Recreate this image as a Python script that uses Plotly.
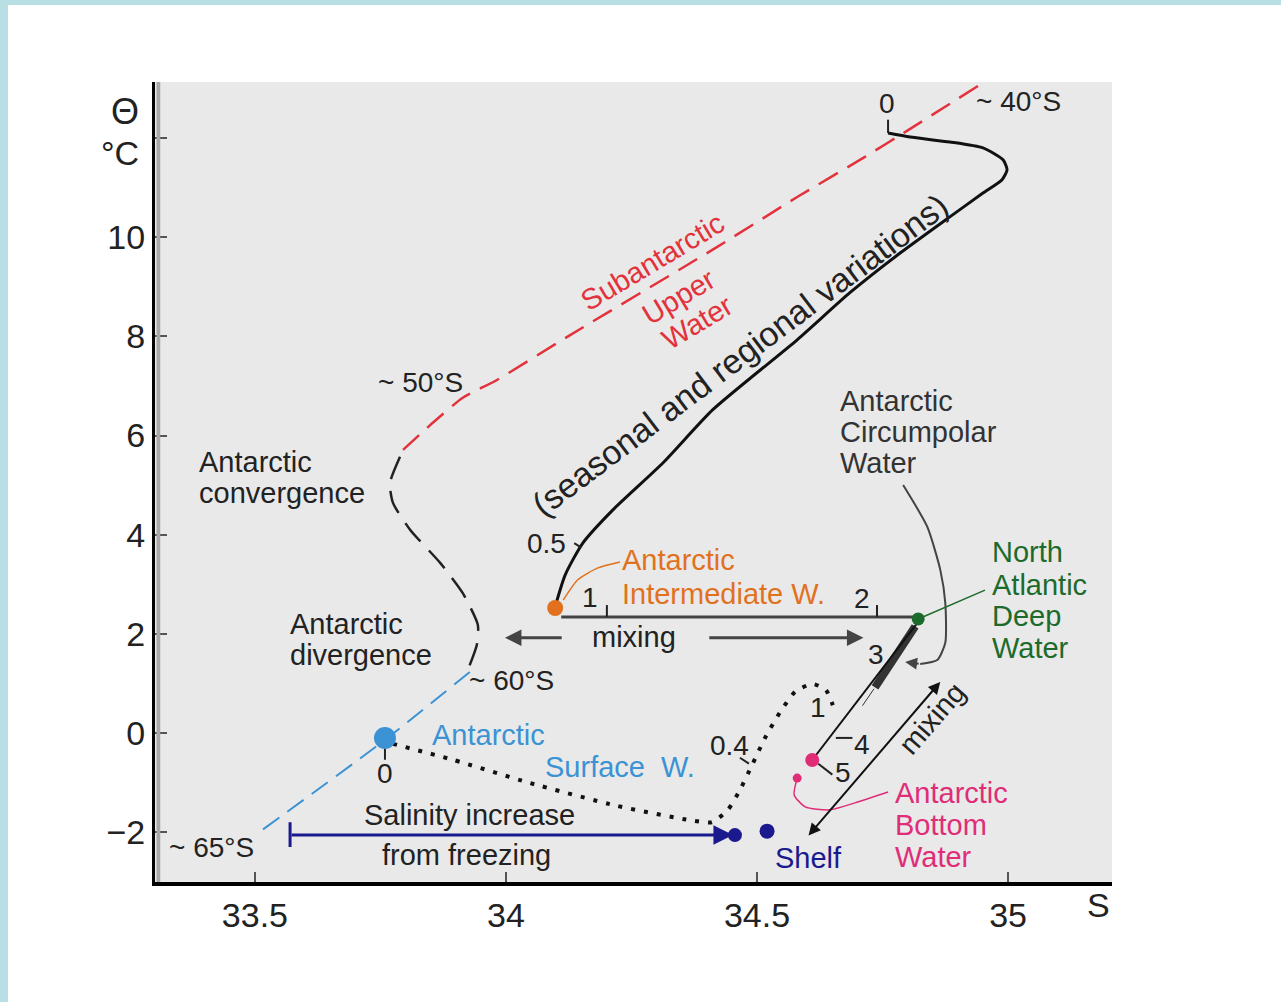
import plotly.graph_objects as go

# ---------------- water-mass paths (salinity S, potential temperature θ) ----------------
sauw_s = [34.940, 34.801, 34.715, 34.580, 34.420, 34.122, 33.982, 33.914, 33.849, 33.795]
sauw_t = [13.05, 12.16, 11.62, 10.81, 9.80, 7.99, 7.12, 6.76, 6.21, 5.71]

front_s = [33.789, 33.769, 33.775, 33.809, 33.869, 33.914, 33.944, 33.942, 33.924]
front_t = [5.57, 5.04, 4.64, 4.10, 3.43, 2.82, 2.18, 1.78, 1.27]

asw_line_s = [33.928, 33.759, 33.514]
asw_line_t = [1.23, -0.14, -1.96]

profile_s = [34.761, 34.805, 34.884, 34.950, 34.990, 34.998, 34.988, 34.950, 34.884,
             34.785, 34.685, 34.580, 34.412, 34.313, 34.213, 34.153, 34.118, 34.100]
profile_t = [12.10, 12.02, 11.92, 11.80, 11.56, 11.36, 11.16, 10.89, 10.41,
             9.68, 8.88, 7.93, 6.52, 5.45, 4.50, 3.83, 3.19, 2.62]

mix_s = [34.110, 34.819]
mix_t = [2.34, 2.34]

deep_thick_s = [34.815, 34.735]
deep_thick_t = [2.15, 0.92]
deep_thin_s = [34.821, 34.610]
deep_thin_t = [2.24, -0.545]

shelf_path_s = [33.775, 33.894, 34.048, 34.221, 34.367, 34.410, 34.442, 34.466, 34.490,
                34.516, 34.546, 34.576, 34.610, 34.637, 34.651]
shelf_path_t = [-0.22, -0.54, -1.01, -1.47, -1.76, -1.80, -1.55, -1.15, -0.65,
                -0.10, 0.42, 0.83, 0.99, 0.87, 0.56]

acw_s = [34.791, 34.839, 34.865, 34.875, 34.875, 34.859, 34.825]
acw_t = [5.00, 4.16, 3.29, 2.62, 1.82, 1.47, 1.39]

nadw_lead_s = [34.821, 34.954]
nadw_lead_t = [2.30, 2.88]

aiw_lead_s = [34.114, 34.143, 34.183, 34.227]
aiw_lead_t = [2.68, 3.09, 3.33, 3.45]

aabw_lead_s = [34.580, 34.574, 34.596, 34.645, 34.695, 34.761]
aabw_lead_t = [-0.91, -1.25, -1.49, -1.55, -1.41, -1.19]

# water-type points
aiw_pt = (34.098, 2.52)
nadw_pt = (34.821, 2.30)
asw_pt = (33.759, -0.10)
aabw_pt = (34.610, -0.545)
aabw_src = (34.580, -0.91)
freeze_pt = (34.456, -2.06)
shelf_pt = (34.520, -1.98)

# salinity increase from freezing
freeze_from = 33.570

# axis ticks
x_ticks = [33.5, 34, 34.5, 35]
x_tick_text = ["33.5", "34", "34.5", "35"]
y_ticks = [-2, 0, 2, 4, 6, 8, 10, 12]
y_tick_text = ["\u22122", "0", "2", "4", "6", "8", "10", ""]

FONT = "Liberation Sans, Arial, Helvetica, sans-serif"
RED = "#e3323c"
ORANGE = "#e2711d"
GREEN = "#1d6b2c"
LBLUE = "#3b93d4"
NAVY = "#1a1a8e"
PINK = "#e02d78"
DARK = "#222222"

fig = go.Figure()


def line(xs, ys, color, width, dash="solid"):
    fig.add_trace(go.Scatter(x=xs, y=ys, mode="lines", hoverinfo="skip",
                             line=dict(color=color, width=width, dash=dash,
                                       shape="spline", smoothing=0.6)))


def dot(pt, color, size):
    fig.add_trace(go.Scatter(x=[pt[0]], y=[pt[1]], mode="markers", hoverinfo="skip",
                             marker=dict(color=color, size=size, line=dict(width=0))))


line(sauw_s, sauw_t, RED, 2.5, "22px,11px")
line(front_s, front_t, DARK, 2.5, "24px,12px")
line(asw_line_s, asw_line_t, LBLUE, 2, "20px,10px")
line(profile_s, profile_t, "#111111", 3)
line(mix_s, mix_t, "#444444", 3)
line(deep_thick_s, deep_thick_t, "#333333", 8)
line(deep_thin_s, deep_thin_t, "#111111", 2)
line(shelf_path_s, shelf_path_t, "#111111", 4, "4px,9px")
line(acw_s, acw_t, "#444444", 2)
line(nadw_lead_s, nadw_lead_t, GREEN, 1.5)
line(aiw_lead_s, aiw_lead_t, ORANGE, 1.5)
line(aabw_lead_s, aabw_lead_t, PINK, 1.5)

# small tick marks beside labels
line([34.761, 34.761], [12.37, 12.10], DARK, 2)
line([33.759, 33.759], [-0.24, -0.54], DARK, 2)
line([34.201, 34.201], [2.58, 2.34], DARK, 2)
line([34.739, 34.739], [2.58, 2.34], DARK, 2)
line([34.136, 34.150], [3.83, 3.74], DARK, 2)
line([34.466, 34.484], [-0.50, -0.62], DARK, 2)
line([34.657, 34.690], [-0.10, -0.10], DARK, 2)
line([34.622, 34.650], [-0.62, -0.84], DARK, 2)
line([freeze_from, freeze_from], [-1.80, -2.30], NAVY, 3)

dot(aiw_pt, ORANGE, 16)
dot(nadw_pt, GREEN, 13)
dot(asw_pt, LBLUE, 22)
dot(aabw_pt, PINK, 14)
dot(aabw_src, PINK, 9)
dot(freeze_pt, NAVY, 14)
dot(shelf_pt, NAVY, 15)

ann = []


def text(x, y, s, color=DARK, size=29, anchor="center", angle=0):
    ann.append(dict(x=x, y=y, text=s, showarrow=False, xanchor=anchor, yanchor="middle",
                    textangle=angle, font=dict(family=FONT, size=size, color=color)))


def arrow(x0, y0, x1, y1, color, width, head=2, size=1.2, side="end"):
    ann.append(dict(x=x1, y=y1, ax=x0, ay=y0, xref="x", yref="y", axref="x", ayref="y",
                    text="", showarrow=True, arrowhead=head, startarrowhead=head,
                    arrowsize=size, startarrowsize=size, arrowwidth=width,
                    arrowcolor=color, arrowside=side))


# latitude / front labels
text(35.020, 12.73, "~ 40°S", size=28)
text(34.759, 12.69, "0", size=28)
text(33.829, 7.06, "~ 50°S", size=28)
text(33.384, 5.47, "Antarctic", anchor="left")
text(33.384, 4.85, "convergence", anchor="left")
text(33.566, 2.19, "Antarctic", anchor="left")
text(33.566, 1.57, "divergence", anchor="left")
text(34.012, 1.05, "~ 60°S", size=28)
text(33.414, -2.32, "~ 65°S", size=28)

# water-mass labels
text(34.291, 9.50, "Subantarctic", RED, 29, angle=-31)
text(34.343, 8.80, "Upper", RED, 29, angle=-31)
text(34.382, 8.29, "Water", RED, 29, angle=-31)
text(34.466, 7.62, "(seasonal and regional variations)", DARK, 34, angle=-37)
text(34.080, 3.83, "0.5", size=28)
text(34.227, 3.49, "Antarctic", ORANGE, anchor="left")
text(34.227, 2.80, "Intermediate W.", ORANGE, anchor="left")
text(34.167, 2.74, "1", size=28)
text(34.709, 2.72, "2", size=28)
text(34.255, 1.94, "mixing")
text(34.737, 1.59, "3", size=28)
text(34.661, 6.70, "Antarctic", "#333333", anchor="left")
text(34.661, 6.07, "Circumpolar", "#333333", anchor="left")
text(34.661, 5.44, "Water", "#333333", anchor="left")
text(34.964, 3.65, "North", GREEN, anchor="left")
text(34.964, 2.99, "Atlantic", GREEN, anchor="left")
text(34.964, 2.36, "Deep", GREEN, anchor="left")
text(34.964, 1.72, "Water", GREEN, anchor="left")
text(33.849, -0.04, "Antarctic", LBLUE, anchor="left")
text(34.074, -0.69, "Surface  W.", LBLUE, anchor="left")
text(33.759, -0.81, "0", size=28)
text(34.446, -0.26, "0.4", size=28)
text(34.621, 0.52, "1", size=28)
text(34.709, -0.24, "4", size=28)
text(34.671, -0.79, "5", size=28)
text(34.849, 0.30, "mixing", angle=-49)
text(34.771, -1.21, "Antarctic", PINK, anchor="left")
text(34.771, -1.86, "Bottom", PINK, anchor="left")
text(34.771, -2.50, "Water", PINK, anchor="left")
text(33.928, -1.65, "Salinity increase")
text(33.922, -2.46, "from freezing")
text(34.602, -2.52, "Shelf", NAVY)

# axis titles (placed in pixel terms relative to the plot frame)
text_axis = [("Θ", 125, 112, 36), ("°C", 120, 153, 34), ("S", 1098, 905, 34)]
for s, px, py, fs in text_axis:
    ann.append(dict(x=(px - 155) / 957, y=(882 - py) / 800, xref="paper", yref="paper",
                    text=s, showarrow=False, xanchor="center", yanchor="middle",
                    font=dict(family=FONT, size=fs, color=DARK)))

# arrows
arrow(freeze_from, -2.06, freeze_pt[0] - 0.004, freeze_pt[1], NAVY, 3, 2, 1.3)
arrow(34.114, 1.92, 33.998, 1.92, "#444444", 3, 2, 1.1)
arrow(34.402, 1.92, 34.712, 1.92, "#444444", 3, 2, 1.1)
arrow(34.600, -2.10, 34.865, 1.03, "#111111", 2, 2, 1.2, "end+start")
arrow(34.825, 1.39, 34.795, 1.43, "#444444", 2, 2, 1.2)
arrow(34.735, 0.92, 34.710, 0.55, "#333333", 1, 0, 1)

fig.update_layout(annotations=ann)

# outer light-blue frame strips and left axis shading
fig.add_shape(type="rect", xref="paper", yref="paper", x0=-0.17, x1=(8 - 155) / 957,
              y0=-0.2, y1=1.11, fillcolor="#b8dfe3", line=dict(width=0), layer="below")
fig.add_shape(type="rect", xref="paper", yref="paper", x0=-0.17, x1=1.2,
              y0=(882 - 5) / 800, y1=1.11, fillcolor="#b8dfe3", line=dict(width=0), layer="below")
fig.add_shape(type="rect", xref="paper", yref="paper", x0=0.0016, x1=0.0055,
              y0=0, y1=1, fillcolor="#a8a8a8", line=dict(width=0), layer="above")

fig.update_xaxes(range=[33.301, 35.207], tickvals=x_ticks, ticktext=x_tick_text,
                 showgrid=False, zeroline=False, showline=True, linecolor="#000000",
                 linewidth=4, ticks="inside", ticklen=10, tickwidth=2, tickcolor="#555555",
                 tickfont=dict(family=FONT, size=34, color=DARK))
fig.update_yaxes(range=[-3.006, 13.13], tickvals=y_ticks, ticktext=y_tick_text,
                 showgrid=False, zeroline=False, showline=True, linecolor="#000000",
                 linewidth=3, ticks="inside", ticklen=12, tickwidth=2, tickcolor="#555555",
                 tickfont=dict(family=FONT, size=34, color=DARK))

fig.update_layout(width=1281, height=1002, showlegend=False,
                  margin=dict(l=155, r=169, t=82, b=120, pad=0),
                  plot_bgcolor="#e9e9e9", paper_bgcolor="#ffffff")

fig.write_html("out.html")
